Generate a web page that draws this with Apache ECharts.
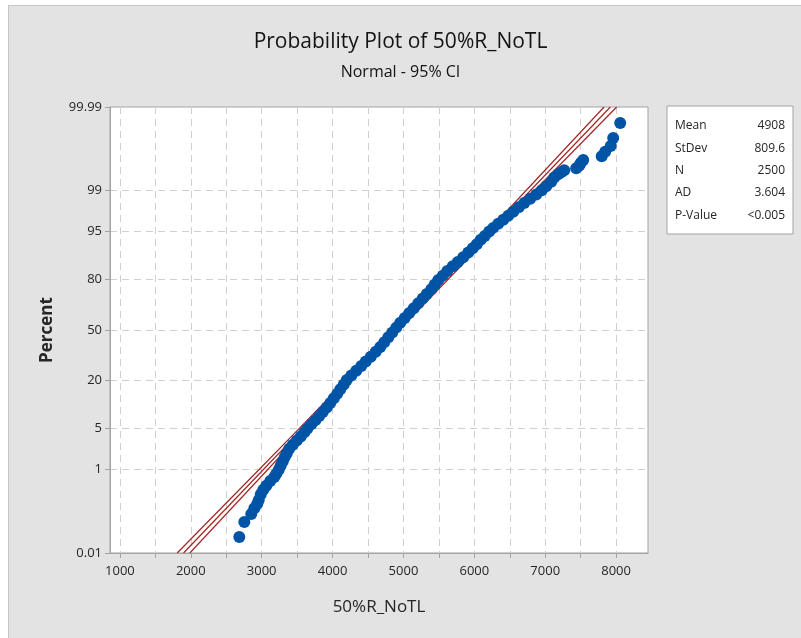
<!DOCTYPE html>
<html>
<head>
<meta charset="utf-8">
<script src="https://cdn.jsdelivr.net/npm/echarts@6/dist/echarts.min.js"></script>
<style>
  html, body { margin: 0; padding: 0; background: #fff; }
  #wrap { position: relative; width: 801px; height: 638px; overflow: hidden; }
  #panel { position: absolute; left: 8px; top: 5px; width: 800px; height: 640px; background: #e3e3e3;
           border-left: 1px solid #c6c6c6; border-top: 1px solid #c6c6c6; }
  #chart { position: absolute; left: 0; top: 0; width: 801px; height: 638px; }
</style>
</head>
<body>
<div id="wrap"><div id="panel"></div><div id="chart"></div></div>
<script>
// percent scale ticks (normal probability axis)
var percentTicks = [0.01, 1, 5, 20, 50, 80, 95, 99, 99.99];
var percentLabels = ['0.01', '1', '5', '20', '50', '80', '95', '99', '99.99'];
var xLabelValues = [1000, 2000, 3000, 4000, 5000, 6000, 7000, 8000];
var xGridValues = [1000, 1500, 2000, 2500, 3000, 3500, 4000, 4500, 5000, 5500, 6000, 6500, 7000, 7500, 8000];

// summary table
var statNames = ['Mean', 'StDev', 'N', 'AD', 'P-Value'];
var statValues = ['4908', '809.6', '2500', '3.604', '<0.005'];
var sampleSize = 2500;

// sorted sample: rank (1..N) and value
var ranks = [1, 2, 3, 4, 5, 6, 8, 10, 12, 15, 18, 21, 25, 30, 36, 43, 50, 60, 70, 82,
  95, 110, 125, 145, 165, 190, 215, 245, 280, 320, 360, 405, 455, 505, 560, 620, 685, 750, 820, 895,
  970, 1050, 1130, 1210, 1290, 1370, 1450, 1530, 1605, 1680, 1750, 1815, 1880, 1940, 1995, 2045, 2095, 2140, 2180, 2220,
  2255, 2285, 2310, 2335, 2355, 2375, 2390, 2405, 2418, 2430, 2440, 2450, 2458, 2465, 2471, 2476, 2480, 2484, 2487, 2489,
  2490, 2491, 2492, 2493, 2494, 2495, 2496, 2497, 2498, 2499, 2500];
var sortedValues = [2684, 2755, 2853, 2896, 2938, 2959, 2987, 3023, 3065, 3121, 3178, 3206, 3241, 3269, 3298, 3326, 3354, 3389, 3439, 3495,
  3551, 3601, 3643, 3700, 3756, 3812, 3862, 3918, 3968, 4017, 4066, 4109, 4158, 4200, 4264, 4334, 4405, 4468, 4539, 4609,
  4673, 4729, 4786, 4842, 4898, 4955, 5018, 5082, 5145, 5209, 5272, 5329, 5392, 5441, 5491, 5554, 5618, 5695, 5766, 5843,
  5914, 5977, 6034, 6090, 6147, 6210, 6266, 6337, 6408, 6478, 6549, 6626, 6704, 6788, 6873, 6951, 7014, 7085, 7127, 7183,
  7226, 7268, 7437, 7479, 7501, 7536, 7797, 7846, 7924, 7959, 8058];

// fitted line and 95% CI, x value at each percent tick
var fitLine = [1897, 3025, 3576, 4226, 4908, 5590, 6240, 6791, 7919];
var ciLower = [1808, 2964, 3527, 4189, 4876, 5553, 6191, 6730, 7830];
var ciUpper = [1986, 3086, 3625, 4263, 4940, 5627, 6289, 6852, 8008];

// inverse normal cdf (Acklam)
function probit(p) {
  var a = [-3.969683028665376e+01, 2.209460984245205e+02, -2.759285104469687e+02, 1.383577518672690e+02, -3.066479806614716e+01, 2.506628277459239e+00];
  var b = [-5.447609879822406e+01, 1.615858368580409e+02, -1.556989798598866e+02, 6.680131188771972e+01, -1.328068155288572e+01];
  var c = [-7.784894002430293e-03, -3.223964580411365e-01, -2.400758277161838e+00, -2.549732539343734e+00, 4.374664141464968e+00, 2.938163982698783e+00];
  var d = [7.784695709041462e-03, 3.224671290700398e-01, 2.445134137142996e+00, 3.754408661907416e+00];
  var plow = 0.02425, q, r;
  if (p < plow) {
    q = Math.sqrt(-2 * Math.log(p));
    return (((((c[0] * q + c[1]) * q + c[2]) * q + c[3]) * q + c[4]) * q + c[5]) / ((((d[0] * q + d[1]) * q + d[2]) * q + d[3]) * q + 1);
  }
  if (p > 1 - plow) {
    q = Math.sqrt(-2 * Math.log(1 - p));
    return -(((((c[0] * q + c[1]) * q + c[2]) * q + c[3]) * q + c[4]) * q + c[5]) / ((((d[0] * q + d[1]) * q + d[2]) * q + d[3]) * q + 1);
  }
  q = p - 0.5; r = q * q;
  return (((((a[0] * r + a[1]) * r + a[2]) * r + a[3]) * r + a[4]) * r + a[5]) * q / (((((b[0] * r + b[1]) * r + b[2]) * r + b[3]) * r + b[4]) * r + 1);
}

var zTicks = percentTicks.map(function (p) { return probit(p / 100); });
var zMin = zTicks[0], zMax = zTicks[zTicks.length - 1];

var points = ranks.map(function (r, i) {
  var pos = (r - 0.3) / (sampleSize + 0.4);   // plotting position
  return [sortedValues[i], probit(pos)];
});
function lineData(xs) {
  return xs.map(function (x, i) { return [x, zTicks[i]]; });
}

var font = '"Open Sans", "Noto Sans", sans-serif';
var textColor = '#262626';

var chart = echarts.init(document.getElementById('chart'), null, { renderer: 'canvas' });

var graphic = [{
  type: 'rect',
  shape: { x: 667, y: 106, width: 126, height: 128 },
  style: { fill: '#fff', stroke: '#a3a3a3', lineWidth: 1 }
}];
statNames.forEach(function (name, i) {
  graphic.push({
    type: 'text', x: 675, y: 126 + i * 22.3,
    style: { text: name, font: '12px ' + font, fill: textColor, textVerticalAlign: 'middle' }
  });
  graphic.push({
    type: 'text', x: 785, y: 126 + i * 22.3,
    style: { text: statValues[i], font: '12px ' + font, fill: textColor, textAlign: 'right', textVerticalAlign: 'middle' }
  });
});

var redLine = { color: '#a52626', width: 1.2 };
var gridDash = { color: '#d0d0d0', type: [7, 5], width: 1 };

var option = {
  backgroundColor: 'transparent',
  animation: false,
  title: [{
    text: 'Probability Plot of 50%R_NoTL',
    left: 'center', top: 27,
    textStyle: { fontFamily: font, fontSize: 21, fontWeight: 'normal', color: '#141414' }
  }, {
    text: 'Normal - 95% CI',
    left: 'center', top: 59,
    textStyle: { fontFamily: font, fontSize: 16, fontWeight: 'normal', color: '#141414' }
  }],
  grid: {
    left: 110, top: 107, right: 153, bottom: 85,
    show: true, backgroundColor: '#fff', borderColor: '#a3a3a3', borderWidth: 1
  },
  xAxis: {
    type: 'value', min: 860, max: 8450,
    name: '50%R_NoTL', nameLocation: 'middle', nameGap: 46,
    nameTextStyle: { fontFamily: font, fontSize: 17, color: textColor },
    axisLine: { show: true, onZero: false, lineStyle: { color: '#a3a3a3' } },
    axisTick: { show: true, length: 5, customValues: xGridValues, lineStyle: { color: '#a3a3a3' } },
    axisLabel: {
      customValues: xLabelValues, margin: 12, fontFamily: font, fontSize: 13, color: textColor,
      formatter: function (v) { return String(v); }
    },
    splitLine: { show: true, lineStyle: gridDash }
  },
  yAxis: {
    type: 'value', min: zMin, max: zMax,
    name: 'Percent', nameLocation: 'middle', nameGap: 54,
    nameTextStyle: { fontFamily: font, fontSize: 17, fontWeight: 'bold', color: textColor },
    axisLine: { show: true, onZero: false, lineStyle: { color: '#a3a3a3' } },
    axisTick: { show: true, length: 5, customValues: zTicks, lineStyle: { color: '#a3a3a3' } },
    axisLabel: {
      customValues: zTicks, margin: 8, fontFamily: font, fontSize: 13, color: textColor,
      formatter: function (v) {
        for (var i = 0; i < zTicks.length; i++) {
          if (Math.abs(zTicks[i] - v) < 1e-6) return percentLabels[i];
        }
        return '';
      }
    },
    splitLine: { show: true, lineStyle: gridDash }
  },
  graphic: graphic,
  series: [{
    name: 'Lower CI', type: 'line', data: lineData(ciLower), symbol: 'none',
    lineStyle: redLine, z: 3
  }, {
    name: 'Fit', type: 'line', data: lineData(fitLine), symbol: 'none',
    lineStyle: redLine, z: 3
  }, {
    name: 'Upper CI', type: 'line', data: lineData(ciUpper), symbol: 'none',
    lineStyle: redLine, z: 3
  }, {
    name: '50%R_NoTL', type: 'scatter', data: points,
    symbol: 'circle', symbolSize: 12,
    itemStyle: { color: '#0054a6', opacity: 1 }, z: 4
  }]
};
chart.setOption(option);
</script>
</body>
</html>
